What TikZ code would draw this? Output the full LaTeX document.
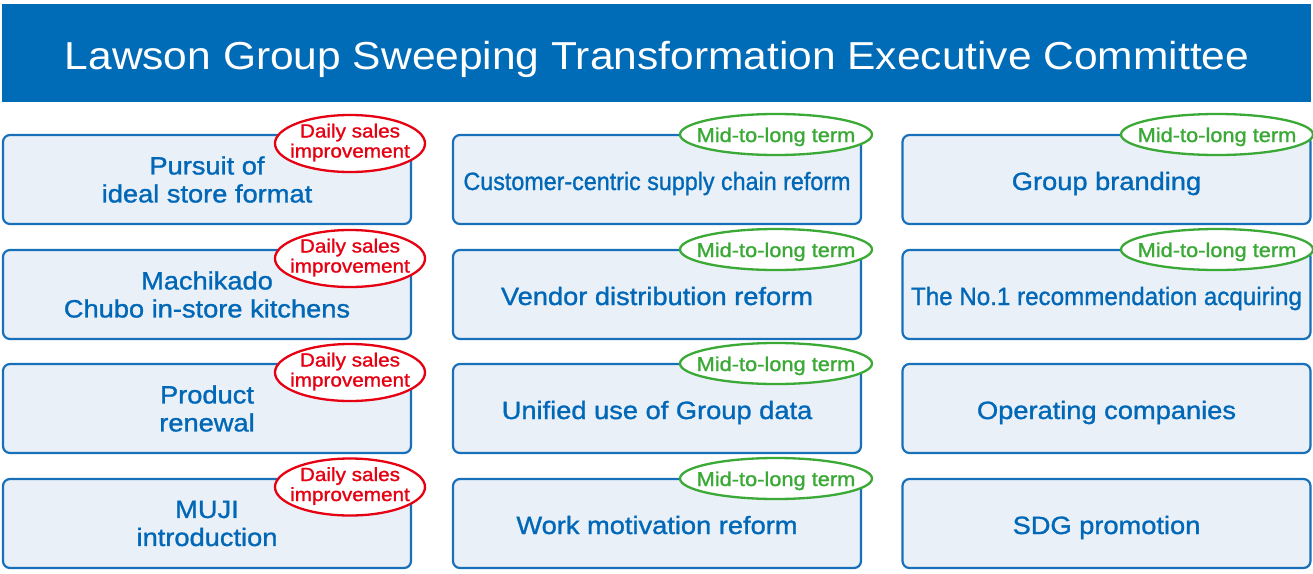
\documentclass[tikz,border=0pt]{standalone}
\usepackage{fontspec}
\setmainfont{Liberation Sans}[FakeStretch=1.09]
\newfontfamily\medfont{Liberation Sans}[FakeStretch=1.09, FakeBold=1.2]
\usetikzlibrary{shapes.geometric}
\definecolor{hdr}{RGB}{0,107,182}
\definecolor{boxfill}{RGB}{234,240,248}
\definecolor{boxline}{RGB}{24,112,186}
\definecolor{txtblue}{RGB}{0,104,183}
\definecolor{dred}{RGB}{230,0,18}
\definecolor{mgreen}{RGB}{58,169,53}
\newcommand{\squeeze}[2]{\resizebox{#1}{\height}{#2}}
\newcommand{\dailytext}{\makebox[0pt]{\begin{tabular}{@{}c@{}}Daily sales\\improvement\end{tabular}}}
\newcommand{\midtext}{\makebox[0pt]{Mid-to-long term}}
\begin{document}
\begin{tikzpicture}[x=1pt,y=-1pt,
 item/.style={draw=boxline, fill=boxfill, line width=2.2pt, rounded corners=7pt, minimum width=408pt, minimum height=89pt, text=txtblue, font=\medfont\fontsize{25}{28}\selectfont, align=center, inner sep=0pt},
 itemone/.style={item, text height=21pt, text depth=0pt},
 daily/.style={ellipse, draw=dred, fill=white, line width=2.3pt, minimum width=150pt, minimum height=57pt, inner sep=0pt, text=dred, font=\medfont\fontsize{19}{20}\selectfont},
 midlong/.style={ellipse, draw=mgreen, fill=white, line width=2.3pt, minimum width=192pt, minimum height=41pt, inner sep=0pt, text=mgreen, text height=15pt, text depth=0pt, font=\medfont\fontsize{20}{21}\selectfont}]
\useasboundingbox (0,0) rectangle (1313,573);
\node[fill=hdr, minimum width=1309pt, minimum height=98pt, inner sep=0pt] (bar) at (656.5,53) {};
\node[anchor=base, inner sep=0pt, text=white, font=\fontsize{39}{40}\selectfont] (title) at (657,69) {Lawson Group Sweeping Transformation Executive Committee};
% column 1
\node[item] (a1) at (207,179.5) {Pursuit of\\ideal store format};
\node[item] (a2) at (207,294.5) {Machikado\\Chubo in-store kitchens};
\node[item] (a3) at (207,408.5) {Product\\renewal};
\node[item] (a4) at (207,523.5) {MUJI\\introduction};
% column 2
\node[itemone] (b1) at (657,179.5) {\squeeze{387pt}{Customer-centric supply chain reform}};
\node[itemone] (b2) at (657,294.5) {Vendor distribution reform};
\node[itemone] (b3) at (657,408.5) {Unified use of Group data};
\node[itemone] (b4) at (657,523.5) {Work motivation reform};
% column 3
\node[itemone] (c1) at (1106.5,179.5) {Group branding};
\node[itemone] (c2) at (1106.5,294.5) {\squeeze{391pt}{The No.1 recommendation acquiring}};
\node[itemone] (c3) at (1106.5,408.5) {Operating companies};
\node[itemone] (c4) at (1106.5,523.5) {SDG promotion};
% tags
\node[daily] (d1) at (350,143.5) {\dailytext};
\node[daily] (d2) at (350,258.5) {\dailytext};
\node[daily] (d3) at (350,372.5) {\dailytext};
\node[daily] (d4) at (350,487) {\dailytext};
\node[midlong] (m1) at (776,134.5) {\midtext};
\node[midlong] (m2) at (776,249.5) {\midtext};
\node[midlong] (m3) at (776,363.5) {\midtext};
\node[midlong] (m4) at (776,478.5) {\midtext};
\node[midlong] (n1) at (1217,134.5) {\midtext};
\node[midlong] (n2) at (1217,249.5) {\midtext};
\end{tikzpicture}
\end{document}
